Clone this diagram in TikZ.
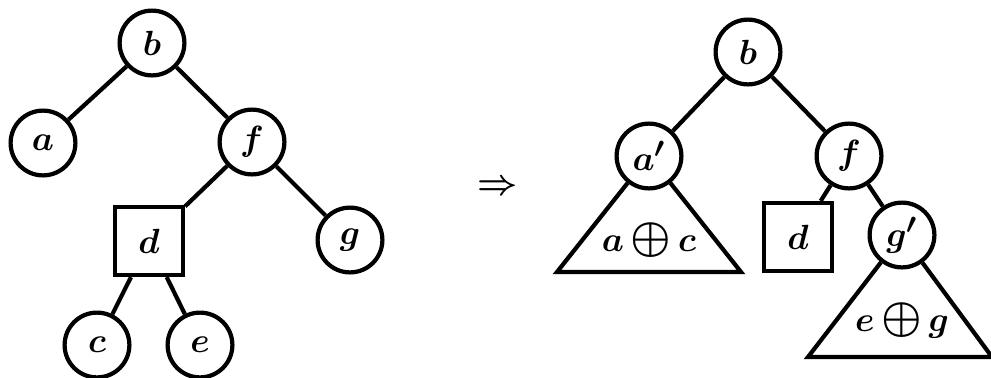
\documentclass[tikz,border=0pt]{standalone}
\usetikzlibrary{positioning}
\newcommand{\bigxor}{\,\mathord{\scalebox{1.3}{$\oplus$}}\,}

\begin{document}
\begin{tikzpicture}[
    on grid,
    every node/.style={font=\Huge\boldmath},
    vertex/.style={draw, circle, line width=3pt, minimum size=1.62cm, inner sep=0pt, fill=white},
    leaf/.style={draw, rectangle, line width=3pt, minimum size=1.7cm, inner sep=0pt},
    edge/.style={line width=3pt},
    subtree/.style={line width=3pt, line join=miter}
]
\useasboundingbox (0,0) rectangle (24.775,-9.425);
\node[vertex] (b) at (3.8,-1.075) {$b$};
\node[vertex, below left=2.5cm and 2.725cm of b] (a) {$a$};
\node[vertex, below right=2.475cm and 2.5cm of b] (f) {$f$};
\node[leaf, below left=2.475cm and 2.575cm of f] (d) {$d$};
\node[vertex, below right=2.45cm and 2.45cm of f] (g) {$g$};
\node[vertex, below left=2.6cm and 1.3cm of d] (c) {$c$};
\node[vertex, below right=2.6cm and 1.275cm of d] (e) {$e$};
\draw[edge] (b) -- (a);
\draw[edge] (b) -- (f);
\draw[edge] (f) -- (d);
\draw[edge] (f) -- (g);
\draw[edge] (d) -- (c);
\draw[edge] (d) -- (e);

\node (implies) at (12.45,-4.7) {$\Rightarrow$};

\node[vertex] (b2) at (18.7,-1.3) {$b$};
\node[vertex, below left=2.6cm and 2.475cm of b2] (a2) {$a'$};
\node[vertex, below right=2.6cm and 2.525cm of b2] (f2) {$f$};
\node[leaf, below left=2.025cm and 1.275cm of f2] (d2) {$d$};
\node[vertex, below right=1.975cm and 1.325cm of f2] (g2) {$g'$};
\coordinate[below left=2.9cm and 2.3cm of a2] (acl);
\coordinate[below right=2.9cm and 2.3cm of a2] (acr);
\coordinate[below left=3.05cm and 2.35cm of g2] (egl);
\coordinate[below right=3.05cm and 2.25cm of g2] (egr);
\node[below=2.1cm of a2] (sumac) {$a\bigxor c$};
\node[below=2.125cm of g2] (sumeg) {$e\bigxor g$};
\draw[edge] (b2) -- (a2);
\draw[edge] (b2) -- (f2);
\draw[edge] (f2) -- (d2);
\draw[edge] (f2) -- (g2);
\draw[subtree] (a2) -- (acl) -- (acr) -- (a2);
\draw[subtree] (g2) -- (egl) -- (egr) -- (g2);
\end{tikzpicture}
\end{document}
